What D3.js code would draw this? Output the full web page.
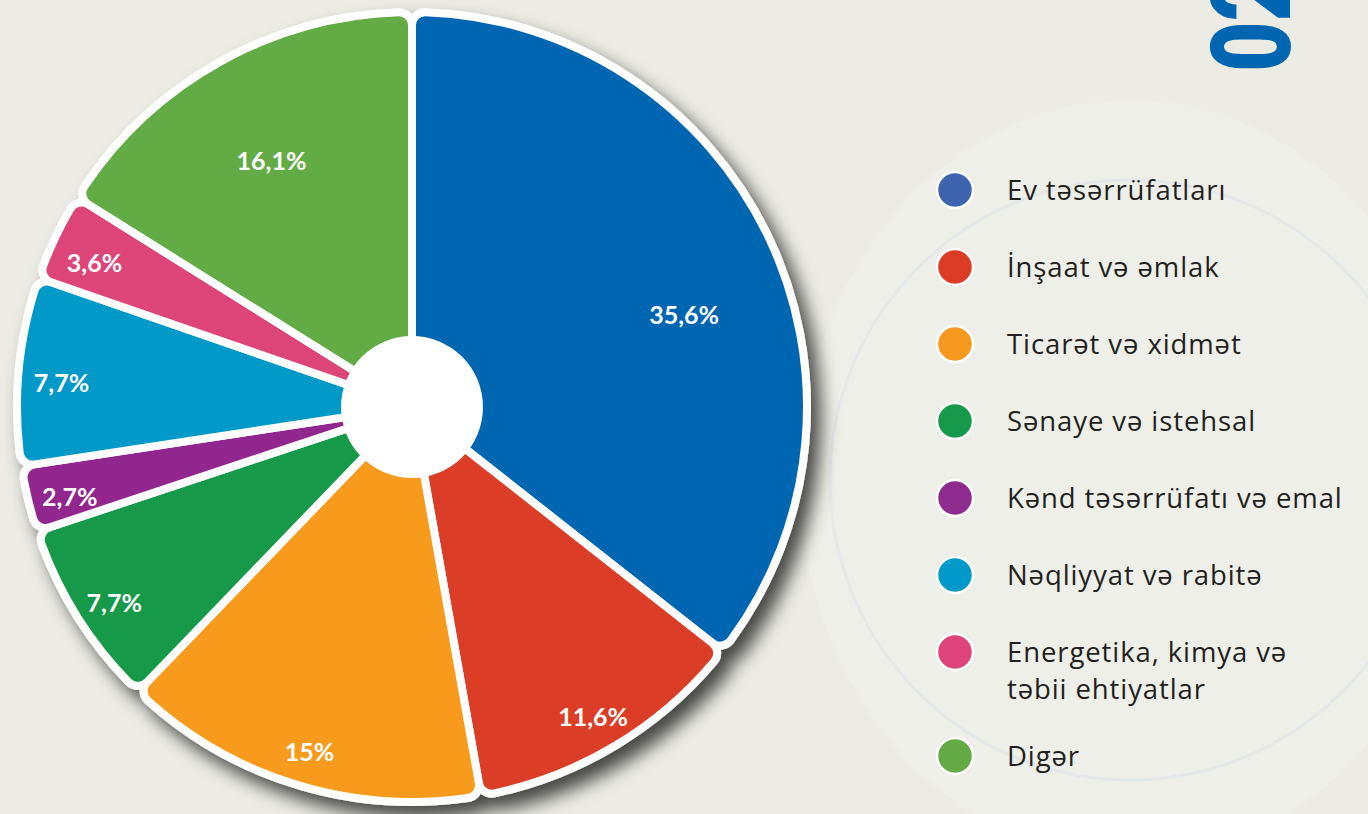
<!DOCTYPE html>
<html>
<head>
<meta charset="utf-8">
<script src="https://cdn.jsdelivr.net/npm/d3@7"></script>
<style>
  html, body { margin: 0; padding: 0; background: #ecece5; }
  svg { display: block; }
</style>
</head>
<body>
<svg id="chart" width="1368" height="814"></svg>
<script>
// sectors, clockwise from 12 o'clock
var categories = ["Ev təsərrüfatları", "İnşaat və əmlak", "Ticarət və xidmət", "Sənaye və istehsal",
                  "Kənd təsərrüfatı və emal", "Nəqliyyat və rabitə",
                  "Energetika, kimya və\ntəbii ehtiyatlar", "Digər"];
var shares = [35.6, 11.6, 15, 7.7, 2.7, 7.7, 3.6, 16.1];
var shareLabels = ["35,6%", "11,6%", "15%", "7,7%", "2,7%", "7,7%", "3,6%", "16,1%"];
var sliceColors = ["#0066b1", "#dc3d26", "#f89a1f", "#179a48", "#92278f", "#0099c8", "#dd4479", "#63ab45"];
var legendColors = ["#3e64b0", "#dc3c26", "#f7991e", "#16994a", "#8e2b8e", "#0099c9", "#de4479", "#64ab46"];
var pageNumber = "02";

var svg = d3.select("#chart");
var cx = 412, cy = 407, outerR = 395, holeR = 71;

// faint background shapes
var bg = svg.append("g");
bg.append("rect").attr("width", 1368).attr("height", 814).attr("fill", "#ecece5");
bg.append("ellipse").attr("cx", 1130).attr("cy", 480).attr("rx", 330).attr("ry", 380)
  .attr("fill", "#efefe9");
bg.append("circle").attr("cx", 1130).attr("cy", 480).attr("r", 300)
  .attr("fill", "none").attr("stroke", "#e4e8e8").attr("stroke-width", 3);

var defs = svg.append("defs");
var f = defs.append("filter").attr("id", "shadow")
  .attr("x", "-10%").attr("y", "-10%").attr("width", "130%").attr("height", "130%");
f.append("feDropShadow").attr("dx", 10).attr("dy", 12).attr("stdDeviation", 9)
  .attr("flood-color", "#000").attr("flood-opacity", 0.7);

var pie = d3.pie().sort(null).value(function(d) { return d; });
var arcs = pie(shares);

var arc = d3.arc().innerRadius(40).outerRadius(outerR).cornerRadius(13);

var g = svg.append("g").attr("transform", "translate(" + cx + "," + cy + ")");
var slices = g.append("g").attr("filter", "url(#shadow)");

slices.selectAll("path").data(arcs).enter().append("path")
  .attr("d", arc)
  .attr("fill", function(d, i) { return sliceColors[i]; })
  .attr("stroke", "#fff")
  .attr("stroke-width", 8)
  .attr("stroke-linejoin", "round");

g.append("circle").attr("r", holeR).attr("fill", "#fff");

// big sectors have their label nearer the middle
g.selectAll("text.pct").data(arcs).enter().append("text")
  .attr("class", "pct")
  .attr("transform", function(d) {
    var r = d.value > 16 ? 290 : 352;
    var a = (d.startAngle + d.endAngle) / 2;
    if (d.value > 30) a += 0.1;
    return "translate(" + (Math.sin(a) * r) + "," + (-Math.cos(a) * r + 8) + ")";
  })
  .attr("text-anchor", "middle")
  .attr("dy", "0.36em")
  .attr("fill", "#fff")
  .style("font-family", "Lato, 'Open Sans', sans-serif")
  .style("font-weight", 700)
  .style("font-size", "25px")
  .text(function(d, i) { return shareLabels[i]; });

// legend
var legend = svg.append("g").attr("transform", "translate(955,190)");
var y = 0;
categories.forEach(function(c, i) {
  var lines = c.split("\n");
  var row = legend.append("g").attr("transform", "translate(0," + y + ")");
  row.append("circle").attr("r", 18).attr("fill", legendColors[i])
    .attr("stroke", "#fff").attr("stroke-width", 2.5);
  var t = row.append("text").attr("x", 52).attr("y", 10)
    .attr("fill", "#231f20")
    .style("font-family", "'Open Sans', sans-serif")
    .style("font-size", "27.5px")
    .style("letter-spacing", "0.9px");
  lines.forEach(function(l, j) {
    t.append("tspan").attr("x", 52).attr("dy", j ? 37 : 0).text(l);
  });
  y += 77 + (lines.length - 1) * 27;
});

// page number, rotated and clipped at the top
svg.append("text")
  .attr("transform", "translate(1290,72) rotate(-90) scale(0.78,1)")
  .attr("fill", "#0066b1")
  .style("font-family", "Roboto, sans-serif")
  .style("font-weight", 900)
  .style("font-size", "112px")
  .text(pageNumber);
</script>
</body>
</html>
